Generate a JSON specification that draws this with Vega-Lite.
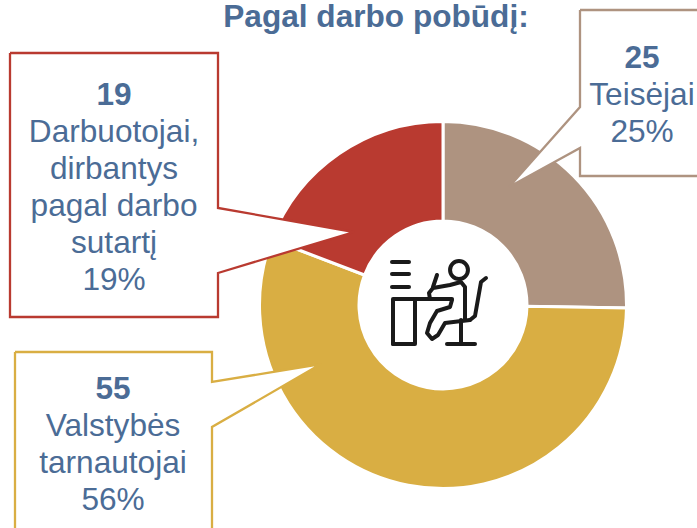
{"$schema":"https://vega.github.io/schema/vega-lite/v6.json","width":697,"height":528,"padding":0,"autosize":{"type":"fit","contains":"padding"},"background":"white","view":{"stroke":null},
"datasets":{
"slices":[{"group":"Teisėjai","count":25,"rank":1},{"group":"Valstybės tarnautojai","count":55,"rank":2},{"group":"Darbuotojai, dirbantys pagal darbo sutartį","count":19,"rank":3}],
"callouts":[
{"box":"Teisėjai","i":1,"x":580,"y":10},{"box":"Teisėjai","i":2,"x":710,"y":10},{"box":"Teisėjai","i":3,"x":710,"y":176},{"box":"Teisėjai","i":4,"x":580,"y":176},{"box":"Teisėjai","i":5,"x":580,"y":148},{"box":"Teisėjai","i":6,"x":509,"y":187},{"box":"Teisėjai","i":7,"x":580,"y":107},{"box":"Teisėjai","i":8,"x":580,"y":10},
{"box":"Darbuotojai","i":1,"x":10,"y":53},{"box":"Darbuotojai","i":2,"x":218,"y":53},{"box":"Darbuotojai","i":3,"x":218,"y":208},{"box":"Darbuotojai","i":4,"x":354,"y":232},{"box":"Darbuotojai","i":5,"x":218,"y":273},{"box":"Darbuotojai","i":6,"x":218,"y":317},{"box":"Darbuotojai","i":7,"x":10,"y":317},{"box":"Darbuotojai","i":8,"x":10,"y":53},
{"box":"Valstybės","i":1,"x":15,"y":352},{"box":"Valstybės","i":2,"x":212,"y":352},{"box":"Valstybės","i":3,"x":212,"y":382},{"box":"Valstybės","i":4,"x":321,"y":364},{"box":"Valstybės","i":5,"x":212,"y":427},{"box":"Valstybės","i":6,"x":212,"y":545},{"box":"Valstybės","i":7,"x":15,"y":545},{"box":"Valstybės","i":8,"x":15,"y":352}],
"labels":[
{"t":"Pagal darbo pobūdį:","x":376,"y":27,"b":1},
{"t":"19","x":114,"y":105,"b":1},{"t":"Darbuotojai,","x":114,"y":142,"b":0},{"t":"dirbantys","x":114,"y":179,"b":0},{"t":"pagal darbo","x":114,"y":216,"b":0},{"t":"sutartį","x":114,"y":253,"b":0},{"t":"19%","x":114,"y":290,"b":0},
{"t":"25","x":642,"y":68,"b":1},{"t":"Teisėjai","x":642,"y":105,"b":0},{"t":"25%","x":642,"y":142,"b":0},
{"t":"55","x":113,"y":399,"b":1},{"t":"Valstybės","x":113,"y":436,"b":0},{"t":"tarnautojai","x":113,"y":473,"b":0},{"t":"56%","x":113,"y":510,"b":0}],
"icon":[
{"p":"d1","i":1,"x":392,"y":262},{"p":"d1","i":2,"x":409,"y":262},
{"p":"d2","i":1,"x":392,"y":274},{"p":"d2","i":2,"x":409,"y":274},
{"p":"d3","i":1,"x":392,"y":287},{"p":"d3","i":2,"x":409,"y":287},
{"p":"desk","i":1,"x":393,"y":344},{"p":"desk","i":2,"x":393,"y":299},{"p":"desk","i":3,"x":452,"y":299},
{"p":"desk2","i":1,"x":415,"y":299},{"p":"desk2","i":2,"x":415,"y":344},{"p":"desk2","i":3,"x":393,"y":344},
{"p":"pen","i":1,"x":437,"y":275},{"p":"pen","i":2,"x":433,"y":287},
{"p":"arm","i":1,"x":430,"y":299},{"p":"arm","i":2,"x":429,"y":293},{"p":"arm","i":3,"x":433,"y":288},{"p":"arm","i":4,"x":450,"y":285},{"p":"arm","i":5,"x":461,"y":282},{"p":"arm","i":6,"x":465,"y":287},{"p":"arm","i":7,"x":465,"y":320},
{"p":"leg","i":1,"x":452,"y":300},{"p":"leg","i":2,"x":450,"y":307},{"p":"leg","i":3,"x":437,"y":311},{"p":"leg","i":4,"x":430,"y":323},{"p":"leg","i":5,"x":427,"y":333},{"p":"leg","i":6,"x":432,"y":339},{"p":"leg","i":7,"x":438,"y":335},{"p":"leg","i":8,"x":445,"y":323},{"p":"leg","i":9,"x":470,"y":320},
{"p":"chair","i":1,"x":486,"y":278},{"p":"chair","i":2,"x":481,"y":282},{"p":"chair","i":3,"x":475,"y":316},{"p":"chair","i":4,"x":470,"y":320},
{"p":"stem","i":1,"x":461,"y":320},{"p":"stem","i":2,"x":461,"y":343},
{"p":"base","i":1,"x":447,"y":344},{"p":"base","i":2,"x":475,"y":344}],
"head":[{"part":"head","x":459,"y":270}]
},
"encoding":{
"x":{"type":"quantitative","scale":{"domain":[0,697],"nice":false,"zero":false},"axis":null},
"y":{"type":"quantitative","scale":{"domain":[528,0],"nice":false,"zero":false},"axis":null}
},
"layer":[
{"data":{"name":"slices"},"mark":{"type":"arc","outerRadius":183.5,"innerRadius":84,"stroke":"white","strokeWidth":3},
"encoding":{"x":{"datum":443,"type":"quantitative"},"y":{"datum":305,"type":"quantitative"},"theta":{"field":"count","type":"quantitative","stack":true},"order":{"field":"rank","type":"quantitative"},
"color":{"field":"group","type":"nominal","legend":null,"scale":{"domain":["Teisėjai","Valstybės tarnautojai","Darbuotojai, dirbantys pagal darbo sutartį"],"range":["#ae9380","#d9ae43","#b93a30"]}}}},
{"data":{"name":"callouts"},"mark":{"type":"line","fill":"white","strokeWidth":2.3,"clip":true},
"encoding":{"x":{"field":"x"},"y":{"field":"y"},"order":{"field":"i","type":"quantitative"},"detail":{"field":"box"},
"stroke":{"field":"box","type":"nominal","legend":null,"scale":{"domain":["Teisėjai","Darbuotojai","Valstybės"],"range":["#ae9380","#b93a30","#d9ae43"]}}}},
{"data":{"name":"labels"},"transform":[{"filter":"datum.b==1"}],"mark":{"type":"text","font":"Liberation Sans","fontSize":31.6,"fontWeight":"bold","color":"#4b6c96","align":"center","baseline":"alphabetic"},
"encoding":{"x":{"field":"x"},"y":{"field":"y"},"text":{"field":"t"}}},
{"data":{"name":"labels"},"transform":[{"filter":"datum.b==0"}],"mark":{"type":"text","font":"Liberation Sans","fontSize":31.6,"color":"#4b6c96","align":"center","baseline":"alphabetic"},
"encoding":{"x":{"field":"x"},"y":{"field":"y"},"text":{"field":"t"}}},
{"data":{"name":"icon"},"mark":{"type":"line","color":"#1a1a1a","strokeWidth":4,"strokeCap":"round","strokeJoin":"round","interpolate":"linear"},
"encoding":{"x":{"field":"x"},"y":{"field":"y"},"order":{"field":"i","type":"quantitative"},"detail":{"field":"p"}}},
{"data":{"name":"head"},"mark":{"type":"point","filled":false,"shape":"circle","size":320,"color":"#1a1a1a","strokeWidth":4,"opacity":1},
"encoding":{"x":{"field":"x"},"y":{"field":"y"}}}
]}
